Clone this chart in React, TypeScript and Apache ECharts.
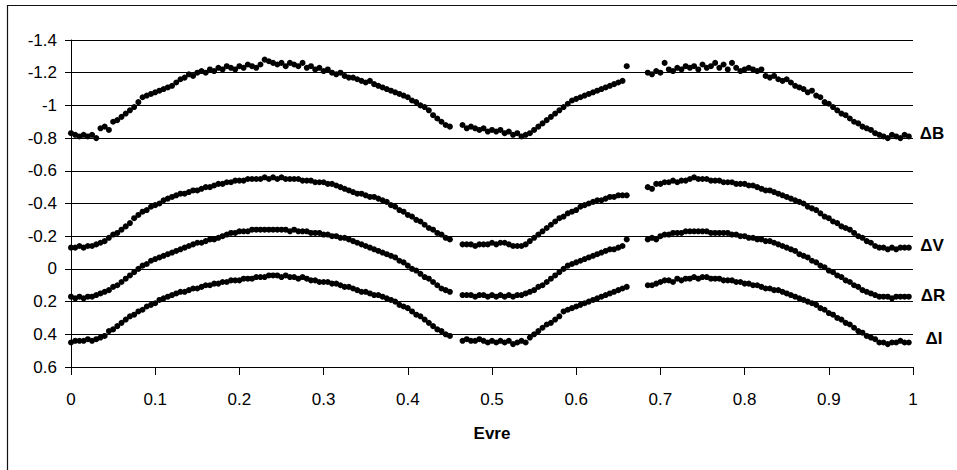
import React, { useEffect, useRef } from "react";
import * as echarts from "echarts";

// Shared phase grid of the observations
const phases = [
  0, 0.005, 0.01, 0.015, 0.02, 0.025, 0.03, 0.035, 0.04, 0.045,
  0.05, 0.055, 0.06, 0.065, 0.07, 0.075, 0.08, 0.085, 0.09, 0.095,
  0.1, 0.105, 0.11, 0.115, 0.12, 0.125, 0.13, 0.135, 0.14, 0.145,
  0.15, 0.155, 0.16, 0.165, 0.17, 0.175, 0.18, 0.185, 0.19, 0.195,
  0.2, 0.205, 0.21, 0.215, 0.22, 0.225, 0.23, 0.235, 0.24, 0.245,
  0.25, 0.255, 0.26, 0.265, 0.27, 0.275, 0.28, 0.285, 0.29, 0.295,
  0.3, 0.305, 0.31, 0.315, 0.32, 0.325, 0.33, 0.335, 0.34, 0.345,
  0.35, 0.355, 0.36, 0.365, 0.37, 0.375, 0.38, 0.385, 0.39, 0.395,
  0.4, 0.405, 0.41, 0.415, 0.42, 0.425, 0.43, 0.435, 0.44, 0.445,
  0.45,
  0.465, 0.47, 0.475, 0.48, 0.485, 0.49, 0.495,
  0.5, 0.505, 0.51, 0.515, 0.52, 0.525, 0.53, 0.535, 0.54, 0.545,
  0.55, 0.555, 0.56, 0.565, 0.57, 0.575, 0.58, 0.585, 0.59, 0.595,
  0.6, 0.605, 0.61, 0.615, 0.62, 0.625, 0.63, 0.635, 0.64, 0.645,
  0.65, 0.655, 0.66,
  0.685, 0.69, 0.695,
  0.7, 0.705, 0.71, 0.715, 0.72, 0.725, 0.73, 0.735, 0.74, 0.745,
  0.75, 0.755, 0.76, 0.765, 0.77, 0.775, 0.78, 0.785, 0.79, 0.795,
  0.8, 0.805, 0.81, 0.815, 0.82, 0.825, 0.83, 0.835, 0.84, 0.845,
  0.85, 0.855, 0.86, 0.865, 0.87, 0.875, 0.88, 0.885, 0.89, 0.895,
  0.9, 0.905, 0.91, 0.915, 0.92, 0.925, 0.93, 0.935, 0.94, 0.945,
  0.95, 0.955, 0.96, 0.965, 0.97, 0.975, 0.98, 0.985, 0.99, 0.995,
];

const deltaB = [
  -0.83, -0.82, -0.81, -0.82, -0.81, -0.82, -0.8, -0.86, -0.87, -0.85,
  -0.9, -0.91, -0.93, -0.95, -0.97, -0.99, -1.02, -1.05, -1.06, -1.07,
  -1.08, -1.09, -1.1, -1.11, -1.12, -1.14, -1.16, -1.17, -1.19, -1.18,
  -1.2, -1.21, -1.2, -1.22, -1.21, -1.23, -1.22, -1.24, -1.23, -1.22,
  -1.24, -1.23, -1.25, -1.24, -1.23, -1.25, -1.28, -1.27, -1.26, -1.25,
  -1.26, -1.24, -1.26, -1.25, -1.24, -1.26, -1.23, -1.24, -1.22, -1.23,
  -1.21, -1.22, -1.2, -1.19, -1.2, -1.18, -1.17, -1.17, -1.16, -1.15,
  -1.14, -1.15, -1.13, -1.12, -1.11, -1.1, -1.09, -1.08, -1.07, -1.06,
  -1.05, -1.03, -1.02, -1.0, -0.99, -0.97, -0.94, -0.92, -0.9, -0.88,
  -0.87,
  -0.88, -0.86, -0.87, -0.86, -0.85, -0.86, -0.84,
  -0.85, -0.84, -0.85, -0.83, -0.84, -0.82, -0.83, -0.81, -0.82, -0.83,
  -0.85, -0.87, -0.89, -0.91, -0.93, -0.95, -0.97, -0.99, -1.01, -1.03,
  -1.04, -1.05, -1.06, -1.07, -1.08, -1.09, -1.1, -1.11, -1.12, -1.13,
  -1.14, -1.15, -1.24,
  -1.2, -1.19, -1.21,
  -1.2, -1.26, -1.22, -1.21, -1.23, -1.22, -1.24, -1.23, -1.24, -1.22,
  -1.25, -1.23, -1.24, -1.26, -1.23, -1.25, -1.22, -1.26, -1.23, -1.21,
  -1.22, -1.23, -1.22, -1.21, -1.22, -1.18, -1.17, -1.18, -1.16, -1.15,
  -1.16, -1.14, -1.12, -1.11, -1.1, -1.08, -1.09, -1.06, -1.05, -1.02,
  -1.01, -0.99, -0.97, -0.95, -0.94, -0.92, -0.9, -0.89, -0.87, -0.86,
  -0.85, -0.83, -0.82, -0.81, -0.8, -0.82, -0.81, -0.8, -0.82, -0.81,
];

const deltaV = [
  -0.13, -0.13, -0.14, -0.13, -0.14, -0.14, -0.15, -0.16, -0.17, -0.19,
  -0.21, -0.22, -0.24, -0.26, -0.28, -0.31, -0.33, -0.35, -0.36, -0.38,
  -0.39, -0.4, -0.42, -0.43, -0.44, -0.45, -0.46, -0.46, -0.47, -0.48,
  -0.48, -0.49, -0.5, -0.5, -0.51, -0.52, -0.52, -0.53, -0.53, -0.54,
  -0.54, -0.54, -0.55, -0.55, -0.55, -0.55, -0.56, -0.55, -0.56, -0.55,
  -0.56, -0.55, -0.55, -0.55, -0.55, -0.54, -0.54, -0.54, -0.53, -0.53,
  -0.53, -0.52, -0.52, -0.51, -0.5, -0.49, -0.48, -0.47, -0.46, -0.46,
  -0.45, -0.44, -0.44, -0.43, -0.42, -0.41, -0.39, -0.38, -0.36, -0.35,
  -0.33, -0.32, -0.3, -0.29, -0.27, -0.25, -0.24, -0.22, -0.21, -0.19,
  -0.18,
  -0.15, -0.15, -0.15, -0.14, -0.15, -0.15, -0.15,
  -0.16, -0.15, -0.16, -0.16, -0.15, -0.14, -0.14, -0.14, -0.15, -0.17,
  -0.19, -0.21, -0.23, -0.25, -0.27, -0.29, -0.31, -0.32, -0.34, -0.35,
  -0.36, -0.38, -0.39, -0.4, -0.41, -0.42, -0.42, -0.43, -0.44, -0.44,
  -0.45, -0.45, -0.45,
  -0.5, -0.49, -0.52,
  -0.52, -0.53, -0.53, -0.54, -0.53, -0.54, -0.54, -0.55, -0.56, -0.55,
  -0.55, -0.55, -0.54, -0.54, -0.54, -0.53, -0.53, -0.53, -0.52, -0.52,
  -0.52, -0.51, -0.51, -0.5, -0.49, -0.48, -0.48, -0.47, -0.46, -0.45,
  -0.44, -0.43, -0.42, -0.41, -0.4, -0.38, -0.37, -0.36, -0.34, -0.32,
  -0.31, -0.29, -0.28, -0.26, -0.25, -0.24, -0.22, -0.2, -0.19, -0.17,
  -0.16, -0.14, -0.13, -0.13, -0.12, -0.13, -0.12, -0.13, -0.13, -0.13,
];

const deltaR = [
  0.17, 0.18, 0.17, 0.18, 0.17, 0.17, 0.16, 0.15, 0.14, 0.13,
  0.11, 0.1, 0.08, 0.06, 0.04, 0.02, 0.0, -0.02, -0.03, -0.05,
  -0.06, -0.07, -0.08, -0.09, -0.1, -0.11, -0.12, -0.13, -0.14, -0.15,
  -0.16, -0.16, -0.17, -0.18, -0.18, -0.19, -0.2, -0.21, -0.22, -0.22,
  -0.23, -0.23, -0.23, -0.24, -0.24, -0.24, -0.24, -0.24, -0.24, -0.24,
  -0.24, -0.24, -0.23, -0.24, -0.23, -0.23, -0.23, -0.22, -0.22, -0.22,
  -0.21, -0.21, -0.2, -0.2, -0.19, -0.19, -0.18, -0.17, -0.16, -0.15,
  -0.14, -0.13, -0.12, -0.11, -0.1, -0.09, -0.08, -0.07, -0.05, -0.04,
  -0.02, 0.0, 0.01, 0.03, 0.05, 0.06, 0.08, 0.1, 0.12, 0.13,
  0.14,
  0.16, 0.16, 0.16, 0.17, 0.16, 0.16, 0.17,
  0.16, 0.17, 0.16, 0.17, 0.16, 0.17, 0.16, 0.16, 0.15, 0.14,
  0.13, 0.11, 0.1, 0.08, 0.06, 0.04, 0.02, 0.0, -0.02, -0.03,
  -0.04, -0.05, -0.06, -0.07, -0.08, -0.09, -0.1, -0.11, -0.12, -0.12,
  -0.13, -0.14, -0.18,
  -0.18, -0.19, -0.18,
  -0.2, -0.21, -0.21, -0.22, -0.22, -0.22, -0.23, -0.23, -0.23, -0.23,
  -0.23, -0.23, -0.22, -0.22, -0.22, -0.22, -0.22, -0.21, -0.21, -0.2,
  -0.2, -0.19, -0.19, -0.18, -0.18, -0.17, -0.17, -0.16, -0.15, -0.14,
  -0.13, -0.12, -0.11, -0.09, -0.08, -0.07, -0.05, -0.04, -0.02, -0.01,
  0.01, 0.02, 0.04, 0.05, 0.07, 0.08, 0.1, 0.11, 0.13, 0.14,
  0.15, 0.16, 0.17, 0.17, 0.17, 0.18, 0.17, 0.17, 0.17, 0.17,
];

const deltaI = [
  0.45, 0.44, 0.44, 0.44, 0.43, 0.44, 0.43, 0.42, 0.41, 0.38,
  0.37, 0.35, 0.33, 0.31, 0.29, 0.28, 0.26, 0.25, 0.23, 0.22,
  0.21, 0.19, 0.18, 0.17, 0.16, 0.15, 0.14, 0.14, 0.13, 0.12,
  0.12, 0.11, 0.1, 0.1, 0.09, 0.09, 0.08, 0.08, 0.07, 0.07,
  0.07, 0.06, 0.06, 0.06, 0.05, 0.05, 0.05, 0.04, 0.04, 0.04,
  0.05, 0.04, 0.05, 0.05, 0.06, 0.05, 0.06, 0.07, 0.07, 0.08,
  0.08, 0.08, 0.09, 0.09, 0.1, 0.11, 0.11, 0.12, 0.13, 0.14,
  0.14, 0.15, 0.16, 0.16, 0.17, 0.18, 0.19, 0.2, 0.22, 0.23,
  0.24, 0.26, 0.28, 0.29, 0.31, 0.33, 0.35, 0.37, 0.38, 0.4,
  0.41,
  0.44, 0.43, 0.44, 0.44, 0.43, 0.44, 0.45,
  0.44, 0.45, 0.44, 0.45, 0.44, 0.46, 0.45, 0.44, 0.45, 0.42,
  0.4, 0.38, 0.36, 0.34, 0.33, 0.31, 0.29, 0.26, 0.25, 0.24,
  0.23, 0.22, 0.21, 0.2, 0.19, 0.18, 0.17, 0.16, 0.15, 0.14,
  0.13, 0.12, 0.11,
  0.1, 0.1, 0.09,
  0.08, 0.07, 0.07, 0.08, 0.06, 0.07, 0.06, 0.06, 0.05, 0.06,
  0.05, 0.05, 0.06, 0.06, 0.06, 0.07, 0.07, 0.07, 0.08, 0.08,
  0.09, 0.09, 0.1, 0.1, 0.11, 0.12, 0.12, 0.13, 0.13, 0.14,
  0.15, 0.16, 0.17, 0.18, 0.19, 0.2, 0.21, 0.22, 0.24, 0.25,
  0.27, 0.28, 0.3, 0.31, 0.33, 0.34, 0.36, 0.38, 0.39, 0.41,
  0.42, 0.43, 0.45, 0.45, 0.46, 0.45, 0.45, 0.44, 0.45, 0.45,
];

const seriesNames = ["ΔB", "ΔV", "ΔR", "ΔI"];
const seriesValues = [deltaB, deltaV, deltaR, deltaI];
const xAxisName = "Evre";

const FONT = "'Liberation Sans', Arial, sans-serif";

const fmt = (v: number) => String(Number(v.toFixed(1)));

export default function App() {
  const ref = useRef<HTMLDivElement>(null);

  useEffect(() => {
    if (!ref.current) return;
    const chart = echarts.init(ref.current, null, { renderer: "svg" });

    const labelPos = [
      { x: 932, y: 133 },
      { x: 932, y: 245 },
      { x: 933, y: 295 },
      { x: 934, y: 338 },
    ];

    const option: any = {
      animation: false,
      backgroundColor: "#ffffff",
      grid: { left: 71, right: 44, top: 40, bottom: 103, containLabel: false },
      xAxis: {
        type: "value",
        min: 0,
        max: 1,
        interval: 0.1,
        name: xAxisName,
        nameLocation: "middle",
        nameGap: 58,
        nameTextStyle: { fontFamily: FONT, fontSize: 17, fontWeight: "bold", color: "#000" },
        axisLine: { show: true, onZero: false, lineStyle: { color: "#000", width: 1 } },
        axisTick: { show: true, length: 8, inside: false, lineStyle: { color: "#000", width: 1 } },
        axisLabel: { margin: 24, fontSize: 17, fontFamily: FONT, color: "#000", formatter: fmt },
        splitLine: { show: false },
      },
      yAxis: {
        type: "value",
        inverse: true,
        min: -1.4,
        max: 0.6,
        interval: 0.2,
        axisLine: { show: true, onZero: false, lineStyle: { color: "#000", width: 1 } },
        axisTick: { show: true, length: 6, inside: false, lineStyle: { color: "#000", width: 1 } },
        axisLabel: { margin: 14, fontSize: 17, fontFamily: FONT, color: "#000", formatter: fmt },
        splitLine: { show: true, lineStyle: { color: "#000", width: 1 } },
      },
      series: seriesNames.map((n, k) => ({
        type: "scatter",
        name: n,
        data: phases.map((p, i) => [p, seriesValues[k][i]]),
        symbol: "circle",
        symbolSize: 6,
        itemStyle: { color: "#000", opacity: 1 },
        silent: true,
      })),
      graphic: [
        {
          type: "rect",
          silent: true,
          z: 100,
          shape: { x: 7.5, y: 5.5, width: 1000, height: 1000 },
          style: { fill: "none", stroke: "#111", lineWidth: 1.2 },
        },
        ...seriesNames.map((n, k) => ({
          type: "text",
          x: labelPos[k].x,
          y: labelPos[k].y,
          silent: true,
          style: {
            text: n,
            font: `bold 17px ${FONT}`,
            fill: "#000",
            textAlign: "center",
            textVerticalAlign: "middle",
            align: "center",
            verticalAlign: "middle",
          },
        })),
      ],
    };

    chart.setOption(option);
    return () => chart.dispose();
  }, []);

  return (
    <div
      ref={ref}
      style={{ position: "fixed", left: 0, top: 0, width: 957, height: 470, background: "#fff" }}
    />
  );
}
